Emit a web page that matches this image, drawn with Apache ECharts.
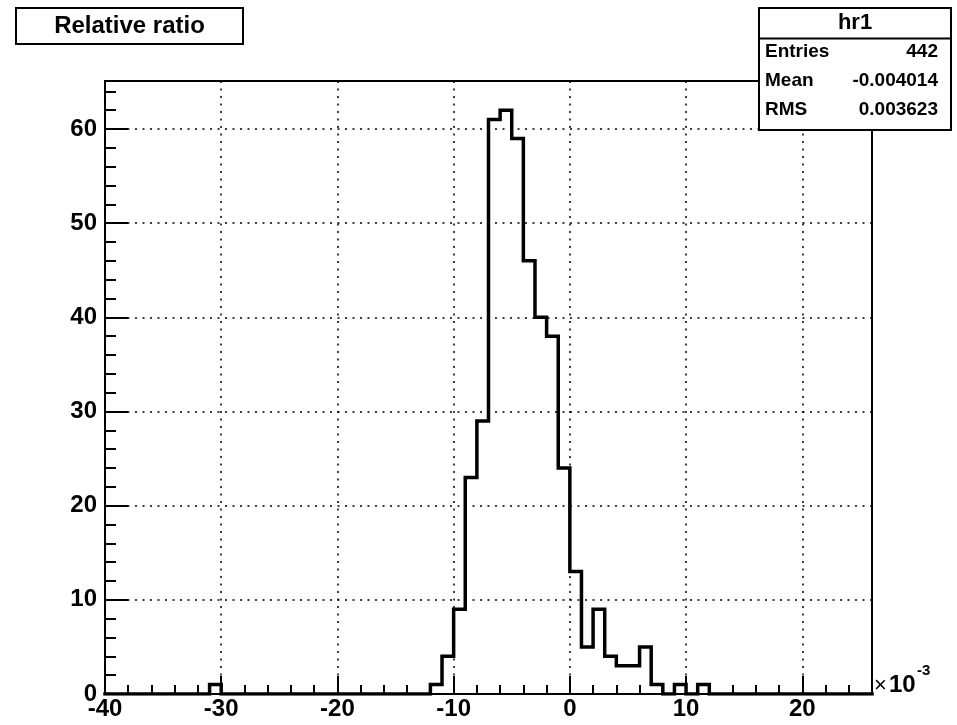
<!DOCTYPE html>
<html>
<head>
<meta charset="utf-8">
<script src="https://cdn.jsdelivr.net/npm/echarts@6/dist/echarts.min.js"></script>
<style>html,body{margin:0;padding:0;background:#fff}#c{width:957px;height:725px}</style>
</head>
<body>
<div id="c"></div>
<script>
// Histogram hr1: 66 bins of width 1 (x10^-3) from -40 to 26
const xMin = -40;
const xMax = 26;
const binWidth = 1;
const counts = [
  0,0,0,0,0,0,0,0,0,1,        // -40 .. -31
  0,0,0,0,0,0,0,0,0,0,        // -30 .. -21
  0,0,0,0,0,0,0,0,1,4,        // -20 .. -11
  9,23,29,61,62,59,46,40,38,24, // -10 .. -1
  13,5,9,4,3,3,5,1,0,1,       // 0 .. 9
  0,1,0,0,0,0,0,0,0,0,        // 10 .. 19
  0,0,0,0,0,0                 // 20 .. 25
];
const yMax = 65.1;
const xTickStep = 10;
const yTickStep = 10;
const minorStep = 2;
const titleText = 'Relative ratio';
const statsName = 'hr1';
const statsLabels = ['Entries', 'Mean', 'RMS'];
const statsValues = ['442', '-0.004014', '0.003623'];

const FONT = '"Liberation Sans", Arial, Helvetica, sans-serif';

const stepData = counts.map((c, i) => [xMin + i * binWidth, c]);
stepData.push([xMax, counts[counts.length - 1]]);

const chart = echarts.init(document.getElementById('c'), null, {renderer: 'canvas'});

const gridDef = {left: 105, top: 81, right: 85, bottom: 31, show: true, borderColor: '#000', borderWidth: 2, backgroundColor: 'transparent'};

chart.setOption({
  animation: false,
  backgroundColor: '#fff',
  grid: gridDef,
  xAxis: [
    {
      type: 'value', position: 'bottom', min: xMin, max: xMax, interval: xTickStep,
      axisLine: {show: true, onZero: false, lineStyle: {color: '#000', width: 2}},
      axisTick: {show: true, inside: true, length: 18, lineStyle: {color: '#000', width: 2}},
      axisLabel: {
        show: true, margin: 3, color: '#000', fontFamily: FONT, fontWeight: 'bold', fontSize: 24,
        formatter: v => (Math.abs(v % xTickStep) < 1e-9 ? String(v) : ''),
        showMaxLabel: false
      },
      splitLine: {show: true, lineStyle: {color: '#000', width: 1.5, type: [2, 5.5]}}
    },
    {
      type: 'value', position: 'bottom', min: xMin, max: xMax, interval: minorStep,
      axisLine: {show: false, onZero: false},
      axisTick: {show: true, inside: true, length: 9, lineStyle: {color: '#000', width: 2}},
      axisLabel: {show: false},
      splitLine: {show: false}
    }
  ],
  yAxis: [
    {
      type: 'value', position: 'left', min: 0, max: yMax, interval: yTickStep,
      axisLine: {show: true, onZero: false, lineStyle: {color: '#000', width: 2}},
      axisTick: {show: true, inside: true, length: 23, lineStyle: {color: '#000', width: 2}},
      axisLabel: {
        show: true, margin: 8, color: '#000', fontFamily: FONT, fontWeight: 'bold', fontSize: 24,
        formatter: v => (Math.abs(v % yTickStep) < 1e-9 ? String(v) : ''),
        showMaxLabel: false
      },
      splitLine: {show: true, lineStyle: {color: '#000', width: 1.5, type: [2, 5.5]}}
    },
    {
      type: 'value', position: 'left', min: 0, max: yMax, interval: minorStep,
      axisLine: {show: false, onZero: false},
      axisTick: {show: true, inside: true, length: 11, lineStyle: {color: '#000', width: 2}},
      axisLabel: {show: false},
      splitLine: {show: false}
    }
  ],
  series: [{
    type: 'line',
    xAxisIndex: 0, yAxisIndex: 0,
    step: 'end',
    data: stepData,
    symbol: 'none',
    lineStyle: {color: '#000', width: 3.5, join: 'miter', cap: 'square'},
    z: 5
  }],
  graphic: [
    {type: 'rect', shape: {x: 16, y: 8, width: 227, height: 36}, style: {fill: '#fff', stroke: '#000', lineWidth: 2}, z: 10},
    {type: 'text', x: 129.5, y: 26, style: {text: titleText, fill: '#000', font: 'bold 24px ' + FONT, align: 'center', verticalAlign: 'middle'}, z: 11},
    {type: 'rect', shape: {x: 759, y: 8, width: 192, height: 122}, style: {fill: '#fff', stroke: '#000', lineWidth: 2}, z: 10},
    {type: 'line', shape: {x1: 759, y1: 38.5, x2: 951, y2: 38.5}, style: {stroke: '#000', lineWidth: 2}, z: 11},
    {type: 'text', x: 855, y: 23, style: {text: statsName, fill: '#000', font: 'bold 22px ' + FONT, align: 'center', verticalAlign: 'middle'}, z: 11},
    {type: 'text', x: 765, y: 52, style: {text: statsLabels[0], fill: '#000', font: 'bold 19px ' + FONT, align: 'left', verticalAlign: 'middle'}, z: 11},
    {type: 'text', x: 765, y: 81, style: {text: statsLabels[1], fill: '#000', font: 'bold 19px ' + FONT, align: 'left', verticalAlign: 'middle'}, z: 11},
    {type: 'text', x: 765, y: 110, style: {text: statsLabels[2], fill: '#000', font: 'bold 19px ' + FONT, align: 'left', verticalAlign: 'middle'}, z: 11},
    {type: 'text', x: 938, y: 52, style: {text: statsValues[0], fill: '#000', font: 'bold 19px ' + FONT, align: 'right', verticalAlign: 'middle'}, z: 11},
    {type: 'text', x: 938, y: 81, style: {text: statsValues[1], fill: '#000', font: 'bold 19px ' + FONT, align: 'right', verticalAlign: 'middle'}, z: 11},
    {type: 'text', x: 938, y: 110, style: {text: statsValues[2], fill: '#000', font: 'bold 19px ' + FONT, align: 'right', verticalAlign: 'middle'}, z: 11},
    {type: 'text', x: 874, y: 686, style: {text: '\u00d7', fill: '#000', font: '22px ' + FONT, align: 'left', verticalAlign: 'middle'}, z: 11},
    {type: 'text', x: 889, y: 685, style: {text: '10', fill: '#000', font: 'bold 24px ' + FONT, align: 'left', verticalAlign: 'middle'}, z: 11},
    {type: 'text', x: 917, y: 671, style: {text: '-3', fill: '#000', font: 'bold 15px ' + FONT, align: 'left', verticalAlign: 'middle'}, z: 11}
  ]
});
</script>
</body>
</html>
